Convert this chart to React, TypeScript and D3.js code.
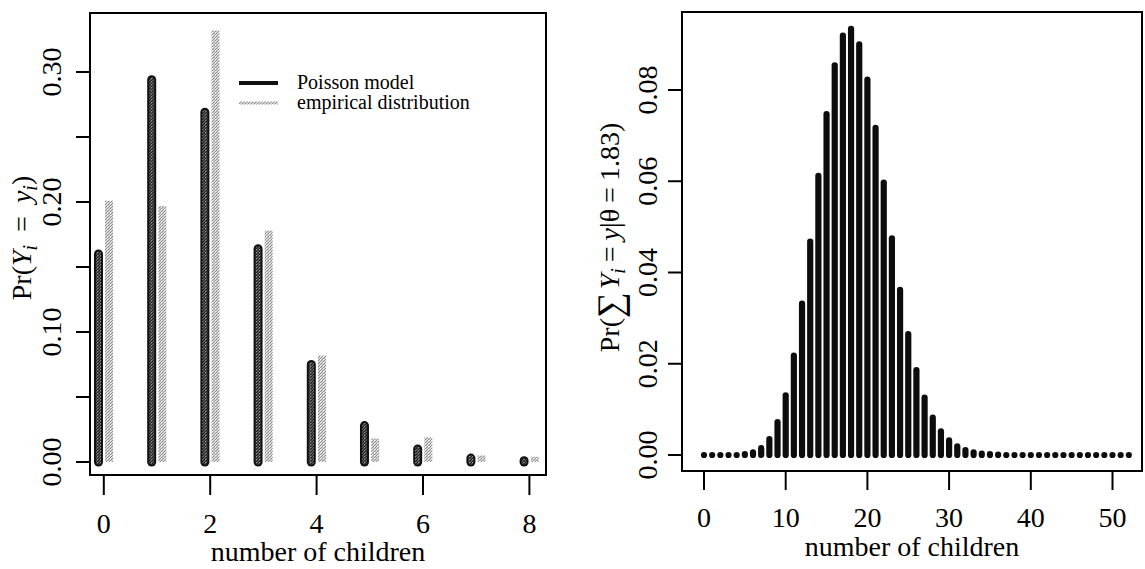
import { useEffect, useRef } from 'react';
import * as d3 from 'd3';

// left panel: number of children 0..8
const childCounts = [0, 1, 2, 3, 4, 5, 6, 7, 8];
const poissonModel = [0.160, 0.294, 0.269, 0.164, 0.075, 0.028, 0.010, 0.003, 0.001];
const empiricalDist = [0.201, 0.197, 0.332, 0.178, 0.082, 0.018, 0.019, 0.005, 0.004];
const leftXTicks = [0, 2, 4, 6, 8];
const leftYTicks = [0, 0.05, 0.10, 0.15, 0.20, 0.25, 0.30];
const leftYLabels = ['0.00', '0.10', '0.20', '0.30'];
const legendLabels = ['Poisson model', 'empirical distribution'];

// right panel: sum of children 0..52
const sumValues = d3.range(0, 53);
const sumProbs = [
  0.0000, 0.0000, 0.0000, 0.0000, 0.0000, 0.0002, 0.0006, 0.0015, 0.0035, 0.0072,
  0.0131, 0.0218, 0.0332, 0.0468, 0.0612, 0.0747, 0.0854, 0.0919, 0.0934, 0.0900,
  0.0823, 0.0717, 0.0597, 0.0475, 0.0362, 0.0265, 0.0186, 0.0126, 0.0082, 0.0052,
  0.0032, 0.0019, 0.0011, 0.0006, 0.0003, 0.0002, 0.0001, 0.0000, 0.0000, 0.0000,
  0.0000, 0.0000, 0.0000, 0.0000, 0.0000, 0.0000, 0.0000, 0.0000, 0.0000, 0.0000,
  0.0000, 0.0000, 0.0000,
];
const rightXTicks = [0, 10, 20, 30, 40, 50];
const rightYTicks = [0, 0.02, 0.04, 0.06, 0.08];
const rightYLabels = ['0.00', '0.02', '0.04', '0.06', '0.08'];
const xTitle = 'number of children';

const FONT = '"Liberation Serif", "DejaVu Serif", serif';

export default function App() {
  const svgRef = useRef<SVGSVGElement | null>(null);

  useEffect(() => {
    if (!svgRef.current) return;
    const svg = d3.select(svgRef.current);
    svg.selectAll('*').remove();

    // stipple textures for the scanned grey bars
    const defs = svg.append('defs');
    const dark = defs.append('pattern').attr('id', 'darkDots')
      .attr('patternUnits', 'userSpaceOnUse').attr('width', 3).attr('height', 3);
    dark.append('rect').attr('width', 3).attr('height', 3).attr('fill', '#555');
    [[0, 0], [2, 1], [1, 2]].forEach(([px, py]) =>
      dark.append('rect').attr('x', px).attr('y', py).attr('width', 1).attr('height', 1).attr('fill', '#1a1a1a'));
    dark.append('rect').attr('x', 1).attr('y', 0).attr('width', 1).attr('height', 1).attr('fill', '#9a9a9a');

    const light = defs.append('pattern').attr('id', 'lightDots')
      .attr('patternUnits', 'userSpaceOnUse').attr('width', 3).attr('height', 3);
    light.append('rect').attr('width', 3).attr('height', 3).attr('fill', '#d6d6d6');
    [[0, 0], [2, 1], [1, 2]].forEach(([px, py]) =>
      light.append('rect').attr('x', px).attr('y', py).attr('width', 1).attr('height', 1).attr('fill', '#8c8c8c'));
    light.append('rect').attr('x', 2).attr('y', 2).attr('width', 1).attr('height', 1).attr('fill', '#fff');

    // ---------- left panel ----------
    const xL = d3.scaleLinear().domain([0, 8]).range([103.8, 529.4]);
    const yL = d3.scaleLinear().domain([0, 0.3]).range([462, 72]);
    const boxL = { x0: 90, x1: 546, y0: 13, y1: 475 };
    const left = svg.append('g');

    // empirical bars (light grey)
    left.selectAll('line.emp').data(childCounts).join('line')
      .attr('class', 'emp')
      .attr('x1', d => xL(d + 0.1)).attr('x2', d => xL(d + 0.1))
      .attr('y1', yL(0)).attr('y2', (d, i) => yL(empiricalDist[i]))
      .attr('stroke', 'url(#lightDots)').attr('stroke-width', 8);

    // poisson bars: black outline + dark stipple body
    left.selectAll('line.poisOut').data(childCounts).join('line')
      .attr('class', 'poisOut')
      .attr('x1', d => xL(d - 0.1)).attr('x2', d => xL(d - 0.1))
      .attr('y1', yL(0)).attr('y2', (d, i) => yL(poissonModel[i]))
      .attr('stroke', '#111').attr('stroke-width', 9).attr('stroke-linecap', 'round');
    left.selectAll('line.poisIn').data(childCounts).join('line')
      .attr('class', 'poisIn')
      .attr('x1', d => xL(d - 0.1)).attr('x2', d => xL(d - 0.1))
      .attr('y1', yL(0)).attr('y2', (d, i) => yL(poissonModel[i]))
      .attr('stroke', 'url(#darkDots)').attr('stroke-width', 5).attr('stroke-linecap', 'round');

    left.append('rect')
      .attr('x', boxL.x0).attr('y', boxL.y0)
      .attr('width', boxL.x1 - boxL.x0).attr('height', boxL.y1 - boxL.y0)
      .attr('fill', 'none').attr('stroke', '#000').attr('stroke-width', 2);

    // x axis
    left.selectAll('line.xt').data(leftXTicks).join('line')
      .attr('class', 'xt')
      .attr('x1', d => xL(d)).attr('x2', d => xL(d))
      .attr('y1', boxL.y1 + 1).attr('y2', boxL.y1 + 20)
      .attr('stroke', '#000').attr('stroke-width', 2);
    left.selectAll('text.xl').data(leftXTicks).join('text')
      .attr('class', 'xl')
      .attr('x', d => xL(d)).attr('y', 533)
      .attr('text-anchor', 'middle').attr('font-size', 28).attr('font-family', FONT)
      .text(d => d);
    left.append('text')
      .attr('x', (boxL.x0 + boxL.x1) / 2).attr('y', 561)
      .attr('text-anchor', 'middle').attr('font-size', 28).attr('font-family', FONT)
      .text(xTitle);

    // y axis
    left.selectAll('line.yt').data(leftYTicks).join('line')
      .attr('class', 'yt')
      .attr('x1', boxL.x0 - 14).attr('x2', boxL.x0 - 1)
      .attr('y1', d => yL(d)).attr('y2', d => yL(d))
      .attr('stroke', '#000').attr('stroke-width', 2);
    left.selectAll('text.yl').data(leftYLabels).join('text')
      .attr('class', 'yl')
      .attr('transform', d => `translate(61,${yL(+d)}) rotate(-90)`)
      .attr('text-anchor', 'middle').attr('font-size', 28).attr('font-family', FONT)
      .text(d => d);

    const labL = left.append('text')
      .attr('transform', `translate(31,${(boxL.y0 + boxL.y1) / 2 - 6}) rotate(-90)`)
      .attr('text-anchor', 'middle').attr('font-size', 28).attr('font-family', FONT);
    labL.append('tspan').text('Pr(');
    labL.append('tspan').attr('font-style', 'italic').text('Y');
    labL.append('tspan').attr('font-style', 'italic').attr('font-size', 20).attr('dy', 6).text('i');
    labL.append('tspan').attr('dy', -6).attr('dx', 13).text('=');
    labL.append('tspan').attr('dx', 13).attr('font-style', 'italic').text('y');
    labL.append('tspan').attr('font-style', 'italic').attr('font-size', 20).attr('dy', 6).text('i');
    labL.append('tspan').attr('dy', -6).text(')');

    // legend
    const legendY = [83, 103];
    left.append('line').attr('x1', 239).attr('x2', 278).attr('y1', legendY[0]).attr('y2', legendY[0])
      .attr('stroke', '#111').attr('stroke-width', 4);
    left.append('line').attr('x1', 239).attr('x2', 278).attr('y1', legendY[1]).attr('y2', legendY[1])
      .attr('stroke', 'url(#lightDots)').attr('stroke-width', 3);
    left.selectAll('text.leg').data(legendLabels).join('text')
      .attr('class', 'leg')
      .attr('x', 297).attr('y', (d, i) => legendY[i] + 6)
      .attr('font-size', 20).attr('font-family', FONT)
      .text(d => d);

    // ---------- right panel ----------
    const xR = d3.scaleLinear().domain([0, 50]).range([704, 1112.5]);
    const yR = d3.scaleLinear().domain([0, 0.08]).range([455, 90]);
    const boxR = { x0: 682, x1: 1142, y0: 12, y1: 471 };
    const right = svg.append('g');

    right.selectAll('line.bar').data(sumValues).join('line')
      .attr('class', 'bar')
      .attr('x1', d => xR(d)).attr('x2', d => xR(d))
      .attr('y1', yR(0)).attr('y2', (d, i) => yR(sumProbs[i]))
      .attr('stroke', '#0d0d0d').attr('stroke-width', 6.2).attr('stroke-linecap', 'round');

    right.append('rect')
      .attr('x', boxR.x0).attr('y', boxR.y0)
      .attr('width', boxR.x1 - boxR.x0).attr('height', boxR.y1 - boxR.y0)
      .attr('fill', 'none').attr('stroke', '#000').attr('stroke-width', 2);

    right.selectAll('line.xt').data(rightXTicks).join('line')
      .attr('class', 'xt')
      .attr('x1', d => xR(d)).attr('x2', d => xR(d))
      .attr('y1', boxR.y1 + 1).attr('y2', boxR.y1 + 19)
      .attr('stroke', '#000').attr('stroke-width', 2);
    right.selectAll('text.xl').data(rightXTicks).join('text')
      .attr('class', 'xl')
      .attr('x', d => xR(d)).attr('y', 527)
      .attr('text-anchor', 'middle').attr('font-size', 28).attr('font-family', FONT)
      .text(d => d);
    right.append('text')
      .attr('x', (boxR.x0 + boxR.x1) / 2).attr('y', 556)
      .attr('text-anchor', 'middle').attr('font-size', 28).attr('font-family', FONT)
      .text(xTitle);

    right.selectAll('line.yt').data(rightYTicks).join('line')
      .attr('class', 'yt')
      .attr('x1', boxR.x0 - 14).attr('x2', boxR.x0 - 1)
      .attr('y1', d => yR(d)).attr('y2', d => yR(d))
      .attr('stroke', '#000').attr('stroke-width', 2);
    right.selectAll('text.yl').data(rightYLabels).join('text')
      .attr('class', 'yl')
      .attr('transform', d => `translate(657,${yR(+d)}) rotate(-90)`)
      .attr('text-anchor', 'middle').attr('font-size', 28).attr('font-family', FONT)
      .text(d => d);

    const labR = right.append('text')
      .attr('transform', `translate(619,${(boxR.y0 + boxR.y1) / 2 - 4}) rotate(-90)`)
      .attr('text-anchor', 'middle').attr('font-size', 28).attr('font-family', FONT);
    labR.append('tspan').text('Pr(');
    labR.append('tspan').attr('font-size', 36).attr('dy', 3).text('∑');
    labR.append('tspan').attr('dy', -3).attr('dx', 3).attr('font-style', 'italic').text('Y');
    labR.append('tspan').attr('font-style', 'italic').attr('font-size', 20).attr('dy', 6).text('i');
    labR.append('tspan').attr('dy', -6).attr('dx', 6).text('=');
    labR.append('tspan').attr('dx', 6).attr('font-style', 'italic').text('y');
    labR.append('tspan').text('|θ');
    labR.append('tspan').attr('dx', 6).text('=');
    labR.append('tspan').attr('dx', 6).text('1.83)');

    return () => { svg.selectAll('*').remove(); };
  }, []);

  return (
    <div style={{ position: 'absolute', left: 0, top: 0, width: 1145, height: 569, background: '#fff' }}>
      <svg ref={svgRef} width={1145} height={569} style={{ display: 'block' }} />
    </div>
  );
}
